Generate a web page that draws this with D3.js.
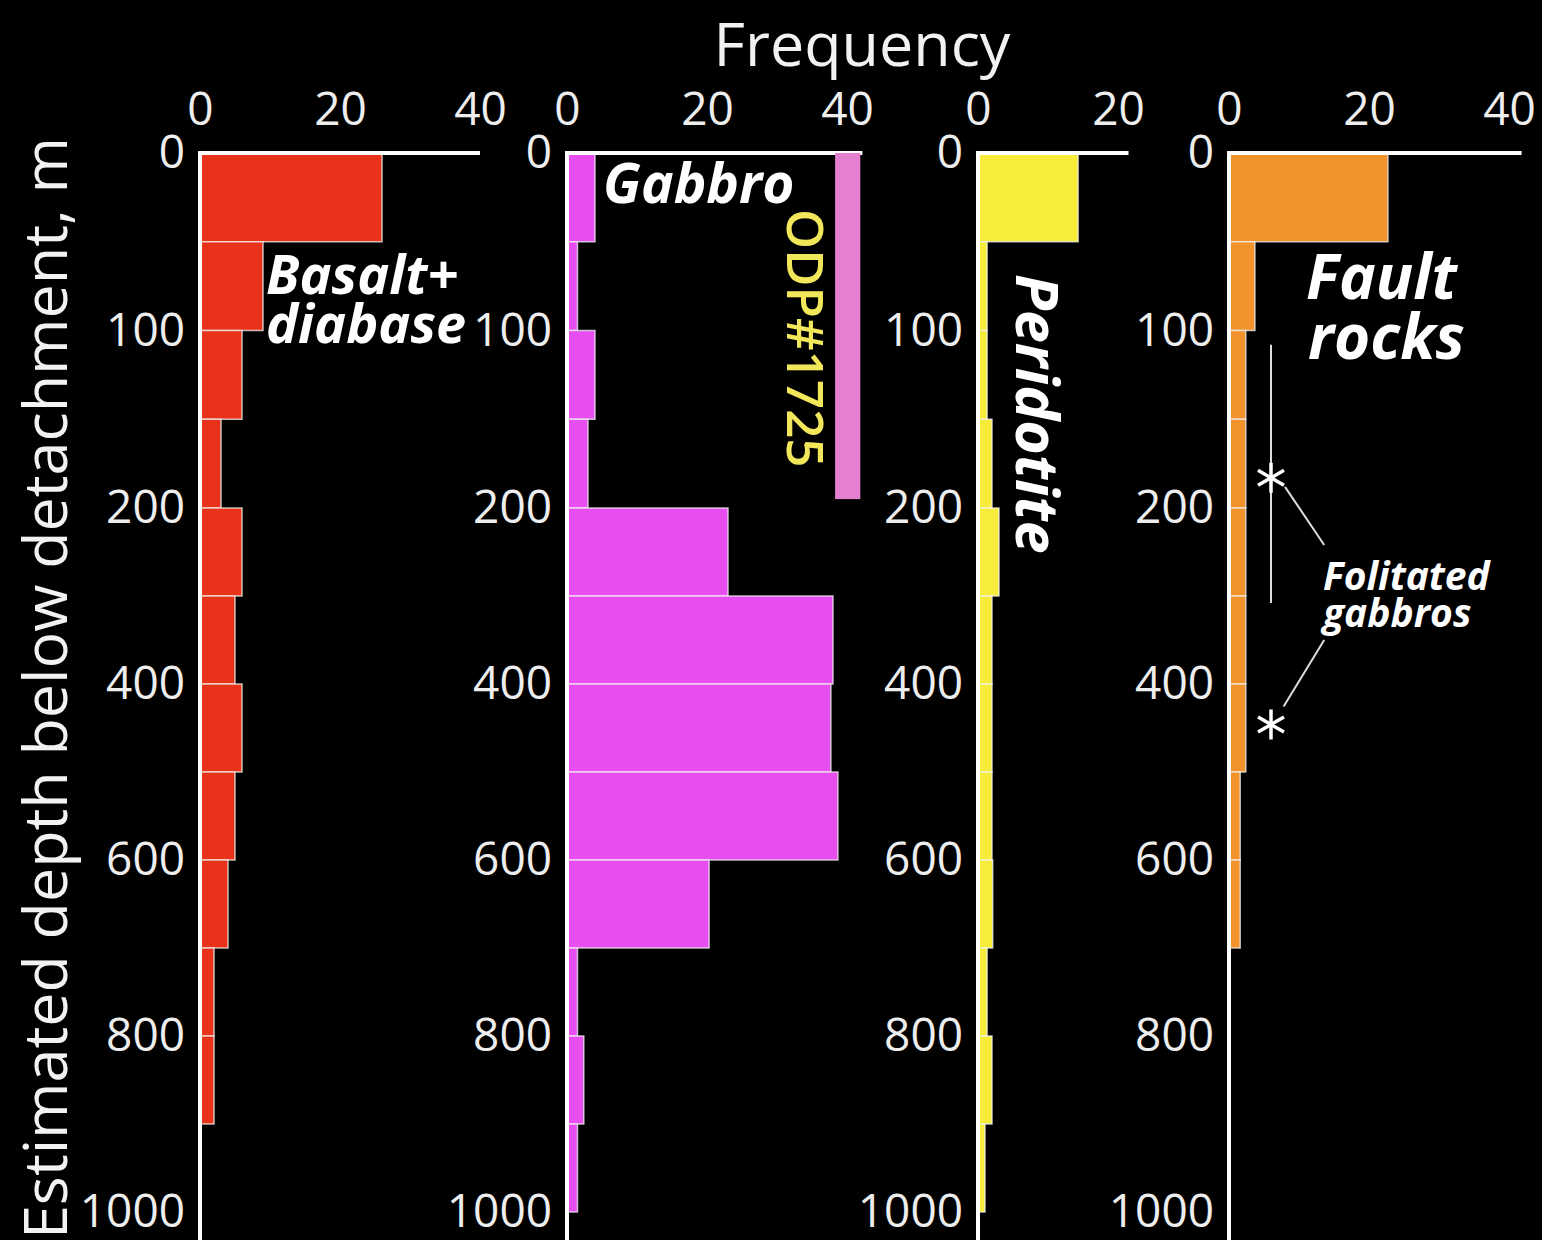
<!DOCTYPE html>
<html>
<head>
<meta charset="utf-8">
<script src="https://cdn.jsdelivr.net/npm/d3@7"></script>
<style>
  html, body { margin: 0; padding: 0; background: #000; }
  svg { display: block; }
  text { font-family: "Open Sans", "DejaVu Sans", sans-serif; }
</style>
</head>
<body>
<div id="container"></div>
<script>
// depth bins (m): 50 m bins to 200 m, then 100 m bins
let binEdges = [0, 50, 100, 150, 200, 300, 400, 500, 600, 700, 800, 900, 1000];
let depthTicks = [0, 100, 200, 400, 600, 800, 1000];

// frequencies per bin
let basalt     = [26, 9, 6, 3, 6, 5, 6, 5, 4, 2, 2, 0];
let gabbro     = [4, 1.5, 4, 3, 23, 38, 37.7, 38.7, 20.3, 1.5, 2.4, 1.5];
let peridotite = [14.3, 1.3, 1.3, 2, 3, 2, 2, 2, 2.1, 1.3, 2, 1];
let faultRocks = [22.7, 3.7, 2.4, 2.4, 2.4, 2.4, 2.4, 1.6, 1.6, 0, 0, 0];

// top tick labels per panel
let ticksBasalt = [0, 20, 40];
let ticksGabbro = [0, 20, 40];
let ticksPerid  = [0, 20];
let ticksFault  = [0, 20, 40];

// ODP hole 1725 depth range (m) and frequency span of its marker
let odpDepth = [0, 195];
let odpFreq = [38.3, 41.9];

// foliated gabbro range and samples (depth, m)
let foliatedRange = [108, 308];
let foliatedSamples = [183, 446];

let w = 1542;
let h = 1240;
let topY = 153;
let pxPerUnit = 7.0;
let tickFont = 46;

let viz = d3.select('#container')
  .append('svg')
  .attr('width', w)
  .attr('height', h)
  .style('background', '#000');

viz.append('rect').attr('width', w).attr('height', h).attr('fill', '#000');

// piecewise depth scale: upper 200 m is stretched
let yScale = d3.scaleLinear().domain([0, 200, 1000]).range([topY, 508, 1212]);

let panels = [
  { name: 'basalt', values: basalt, ticks: ticksBasalt, x0: 200, lineMax: 40, color: '#e8321a' },
  { name: 'gabbro', values: gabbro, ticks: ticksGabbro, x0: 567, lineMax: 42.2, color: '#e64ef0' },
  { name: 'peridotite', values: peridotite, ticks: ticksPerid, x0: 978, lineMax: 21.5, color: '#f7ec3a' },
  { name: 'fault', values: faultRocks, ticks: ticksFault, x0: 1229, lineMax: 41.8, color: '#f2922a' }
];

panels.forEach(p => {
  p.xScale = d3.scaleLinear().domain([0, 40]).range([p.x0, p.x0 + 40 * pxPerUnit]);
  let g = viz.append('g').classed(p.name, true);
  p.g = g;

  let bins = p.values.map((v, i) => ({ v: v, d0: binEdges[i], d1: binEdges[i + 1] }));

  g.selectAll('.bar')
    .data(bins.filter(d => d.v > 0))
    .enter()
    .append('rect')
    .classed('bar', true)
    .attr('x', p.xScale(0))
    .attr('y', d => yScale(d.d0))
    .attr('width', d => p.xScale(d.v) - p.xScale(0))
    .attr('height', d => yScale(d.d1) - yScale(d.d0))
    .attr('fill', p.color)
    .attr('stroke', '#f2f2f2')
    .attr('stroke-opacity', 0.75)
    .attr('stroke-width', 1.5);

  // axis lines
  g.append('line')
    .attr('x1', p.xScale(0)).attr('x2', p.xScale(p.lineMax))
    .attr('y1', topY).attr('y2', topY)
    .attr('stroke', '#fff').attr('stroke-width', 4);
  g.append('line')
    .attr('x1', p.xScale(0)).attr('x2', p.xScale(0))
    .attr('y1', topY - 2).attr('y2', h)
    .attr('stroke', '#fff').attr('stroke-width', 4);

  // top axis labels
  let xAxis = d3.axisTop(p.xScale).tickValues(p.ticks).tickSize(0).tickPadding(28);
  let xg = g.append('g').attr('transform', `translate(0,${topY})`).call(xAxis);
  xg.select('.domain').remove();
  xg.selectAll('text').attr('fill', '#eeeeee').attr('font-size', tickFont)
    .style('font-family', '"Open Sans", sans-serif');

  // left depth labels
  let yAxis = d3.axisLeft(yScale).tickValues(depthTicks).tickFormat(d3.format('d'))
    .tickSize(0).tickPadding(15);
  let yg = g.append('g').attr('transform', `translate(${p.x0},0)`).call(yAxis);
  yg.select('.domain').remove();
  yg.selectAll('text').attr('fill', '#eeeeee').attr('font-size', tickFont)
    .style('font-family', '"Open Sans", sans-serif');
});

// ODP #1725 marker bar in the gabbro panel
let gab = panels[1];
gab.g.append('rect')
  .attr('x', gab.xScale(odpFreq[0]))
  .attr('y', yScale(odpDepth[0]))
  .attr('width', gab.xScale(odpFreq[1]) - gab.xScale(odpFreq[0]))
  .attr('height', yScale(odpDepth[1]) - yScale(odpDepth[0]))
  .attr('fill', '#e57fd0');

// titles
viz.append('text')
  .attr('x', 862).attr('y', 66)
  .attr('text-anchor', 'middle')
  .attr('font-size', 61)
  .attr('fill', '#f2f2f2')
  .text('Frequency');

viz.append('text')
  .attr('transform', 'translate(67,688) rotate(-90)')
  .attr('text-anchor', 'middle')
  .attr('font-size', 61)
  .attr('fill', '#f2f2f2')
  .text('Estimated depth below detachment, m');

// rock labels
function label(x, y, txt, size, rot, color) {
  let t = viz.append('text')
    .attr('font-size', size)
    .attr('font-weight', 700)
    .attr('font-style', 'italic')
    .attr('fill', color || '#fff')
    .text(txt);
  if (rot) t.attr('transform', `translate(${x},${y}) rotate(${rot})`);
  else t.attr('x', x).attr('y', y);
  return t;
}

label(266, 294, 'Basalt+', 54);
label(266, 343, 'diabase', 54);
label(603, 203, 'Gabbro', 55);
label(1306, 299, 'Fault', 62);
label(1308, 359, 'rocks', 62);
label(1016, 274, 'Peridotite', 59, 90);
label(1323, 590, 'Folitated', 39);
label(1323, 627, 'gabbros', 39);

viz.append('text')
  .attr('transform', 'translate(787,209) rotate(90)')
  .attr('font-size', 51)
  .attr('font-weight', 600)
  .attr('fill', '#f2e65a')
  .text('ODP#1725');

// foliated gabbro annotations in the fault rocks panel
let flt = panels[3];
let ann = flt.g.append('g');
ann.append('line')
  .attr('x1', flt.xScale(6)).attr('x2', flt.xScale(6))
  .attr('y1', yScale(foliatedRange[0])).attr('y2', yScale(foliatedRange[1]))
  .attr('stroke', '#ddd').attr('stroke-width', 2);

foliatedSamples.forEach(d => {
  let cx = flt.xScale(6), cy = yScale(d);
  [0, 60, 120].forEach(a => {
    let r = 15, rad = a * Math.PI / 180;
    ann.append('line')
      .attr('x1', cx - r * Math.sin(rad)).attr('x2', cx + r * Math.sin(rad))
      .attr('y1', cy - r * Math.cos(rad)).attr('y2', cy + r * Math.cos(rad))
      .attr('stroke', '#fff').attr('stroke-width', 3.5);
  });
});

// leader lines to the label
[[183, 8, 242, 13.6], [446, 7.8, 350, 13.6]].forEach(l => {
  ann.append('line')
    .attr('x1', flt.xScale(l[1])).attr('y1', yScale(l[0]) + (l[0] < 300 ? 9 : -18))
    .attr('x2', flt.xScale(l[3])).attr('y2', yScale(l[2]))
    .attr('stroke', '#ddd').attr('stroke-width', 2);
});
</script>
</body>
</html>
